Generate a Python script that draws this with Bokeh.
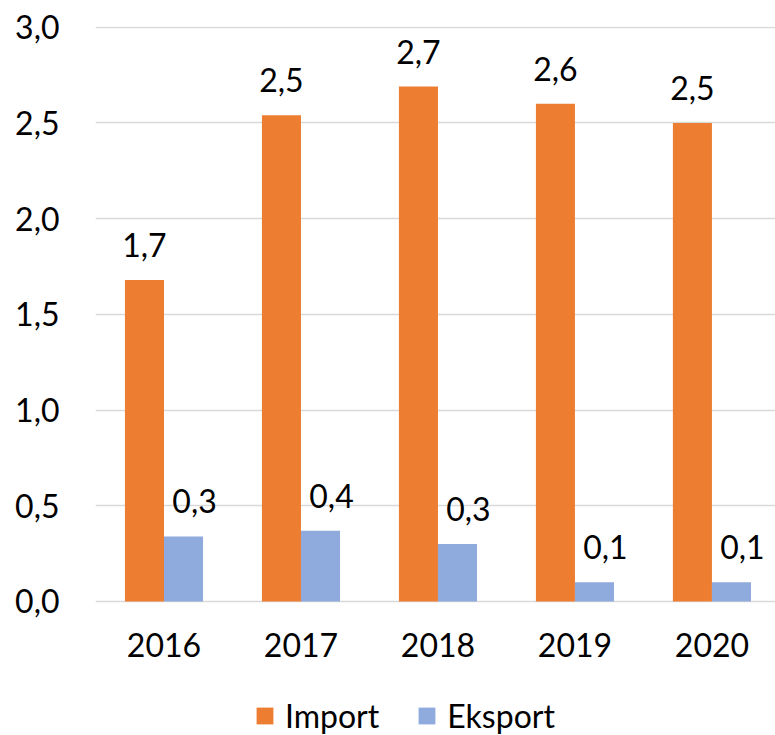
from bokeh.plotting import figure
from bokeh.models import (ColumnDataSource, Range1d, FixedTicker, CustomJSTickFormatter,
                          Legend, LegendItem)
from bokeh.transform import dodge
from bokeh.core.properties import value
from bokeh.embed import file_html
from bokeh.resources import INLINE

years = ["2016", "2017", "2018", "2019", "2020"]
import_vals = [1.68, 2.54, 2.69, 2.60, 2.50]
eksport_vals = [0.34, 0.37, 0.30, 0.10, 0.10]
y_ticks = [0.0, 0.5, 1.0, 1.5, 2.0, 2.5, 3.0]

ORANGE = "#ED7D31"
BLUE = "#8FAADC"
FONT = "Lato"
FS = "32px"

def lbl(v):
    return f"{v:.1f}".replace(".", ",")

src = ColumnDataSource(dict(
    x=list(range(len(years))),
    base=[0.0] * len(years),
    year=years,
    imp=import_vals,
    eks=eksport_vals,
    imp_lbl=[lbl(v) for v in import_vals],
    eks_lbl=[lbl(v) for v in eksport_vals],
))

# frame covers the plot plus the category-label/legend strip below it
p = figure(frame_width=680, frame_height=709, output_backend="svg", toolbar_location=None,
           x_range=Range1d(-0.5, 4.464), y_range=Range1d(-0.7001, 3.004),
           min_border_left=95, min_border_top=26, min_border_right=0, min_border_bottom=0)
p.outline_line_color = None
p.background_fill_color = "white"

bw = 0.285
r_imp = p.vbar(x=dodge("x", -bw / 2), top="imp", width=bw, source=src,
               fill_color=ORANGE, line_color=None)
r_eks = p.vbar(x=dodge("x", bw / 2), top="eks", width=bw, source=src,
               fill_color=BLUE, line_color=None)

p.text(x=dodge("x", -bw / 2), y="imp", text="imp_lbl", source=src,
       y_offset=-35, text_align="center", text_baseline="alphabetic",
       text_font=value(FONT), text_font_size=FS, text_color="black")
p.text(x=dodge("x", bw / 2), y="eks", text="eks_lbl", source=src,
       x_offset=11, y_offset=-35, text_align="center", text_baseline="alphabetic",
       text_font=value(FONT), text_font_size=FS, text_color="black")

# category labels
p.text(x="x", y="base", text="year", source=src,
       y_offset=44, text_align="center", text_baseline="alphabetic",
       text_font=value(FONT), text_font_size=FS, text_color="black")

# axes
p.yaxis.ticker = FixedTicker(ticks=y_ticks)
p.yaxis.formatter = CustomJSTickFormatter(code="return tick.toFixed(1).replace('.', ',');")
p.yaxis.axis_line_color = None
p.yaxis.major_tick_line_color = None
p.yaxis.minor_tick_line_color = None
p.yaxis.major_label_standoff = 30
p.yaxis.major_label_text_font = FONT
p.yaxis.major_label_text_font_size = FS
p.yaxis.major_label_text_color = "black"
p.xaxis.visible = False

p.xgrid.grid_line_color = None
p.ygrid.grid_line_color = "#D9D9D9"
p.ygrid.grid_line_width = 1.5

legend = Legend(items=[LegendItem(label="Import", renderers=[r_imp]),
                       LegendItem(label="Eksport", renderers=[r_eks])],
                orientation="horizontal", location=(159, 0),
                glyph_width=21, glyph_height=21, label_standoff=10, spacing=37,
                padding=0, margin=0, border_line_color=None, background_fill_alpha=0,
                label_text_font=FONT, label_text_font_size=FS, label_text_color="black")
p.add_layout(legend, "center")

open("out.html", "w").write(file_html(p, INLINE))
